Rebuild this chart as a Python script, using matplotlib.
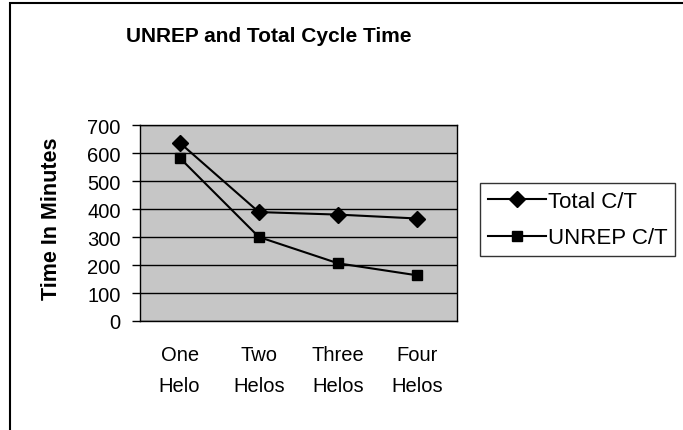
import matplotlib
matplotlib.use("Agg")
import matplotlib.pyplot as plt
from matplotlib.patches import Rectangle

plt.rcParams['font.family'] = ['Liberation Sans', 'DejaVu Sans']

categories = ["One\nHelo", "Two\nHelos", "Three\nHelos", "Four\nHelos"]
total_ct = [637, 389, 380, 366]
unrep_ct = [583, 300, 206, 163]
y_ticks = [0, 100, 200, 300, 400, 500, 600, 700]

fig = plt.figure(figsize=(6.83, 4.31), dpi=100)
ax = fig.add_axes([140 / 683, 1 - 322 / 431, 317 / 683, 196 / 431])

# outer chart border (runs off the right and bottom of the scan)
fig.patches.append(Rectangle((10 / 683, -0.05), 1.1, 1 - 4 / 431 + 0.05,
                             transform=fig.transFigure, fill=False,
                             edgecolor='black', linewidth=1.5))

ax.set_facecolor('#c6c6c6')
x = list(range(len(categories)))
ax.plot(x, total_ct, color='black', lw=1.5, marker='D', markersize=8,
        label='Total C/T')
ax.plot(x, unrep_ct, color='black', lw=1.5, marker='s', markersize=7.5,
        label='UNREP C/T')

ax.set_xlim(-0.5, 3.5)
ax.set_ylim(0, 700)
ax.set_yticks(y_ticks)
ax.yaxis.grid(True, color='black', lw=1)
ax.set_axisbelow(True)
ax.tick_params(axis='y', labelsize=14.5, length=6, width=1, pad=8)
ax.set_xticks(x)
ax.set_xticklabels(categories, fontsize=14.5, linespacing=1.85)
ax.tick_params(axis='x', length=0, pad=17)
for s in ax.spines.values():
    s.set_color('black')
    s.set_linewidth(1)

fig.text(52 / 683, 1 - 219 / 431, "Time In Minutes", rotation=90,
         ha='center', va='center', fontsize=15.5, fontweight='bold')
fig.text(269 / 683, 1 - 37 / 431, "UNREP and Total Cycle Time",
         ha='center', va='center', fontsize=15, fontweight='bold')

leg = fig.legend(loc='upper left', bbox_to_anchor=(480 / 683, 1 - 184 / 431),
                 fontsize=16, frameon=True, fancybox=False, handlelength=2.6,
                 borderpad=0.35, labelspacing=0.7, handletextpad=0.1,
                 borderaxespad=0)
leg.get_frame().set_edgecolor('black')
leg.get_frame().set_linewidth(1)

fig.savefig("out.png", dpi=100)
